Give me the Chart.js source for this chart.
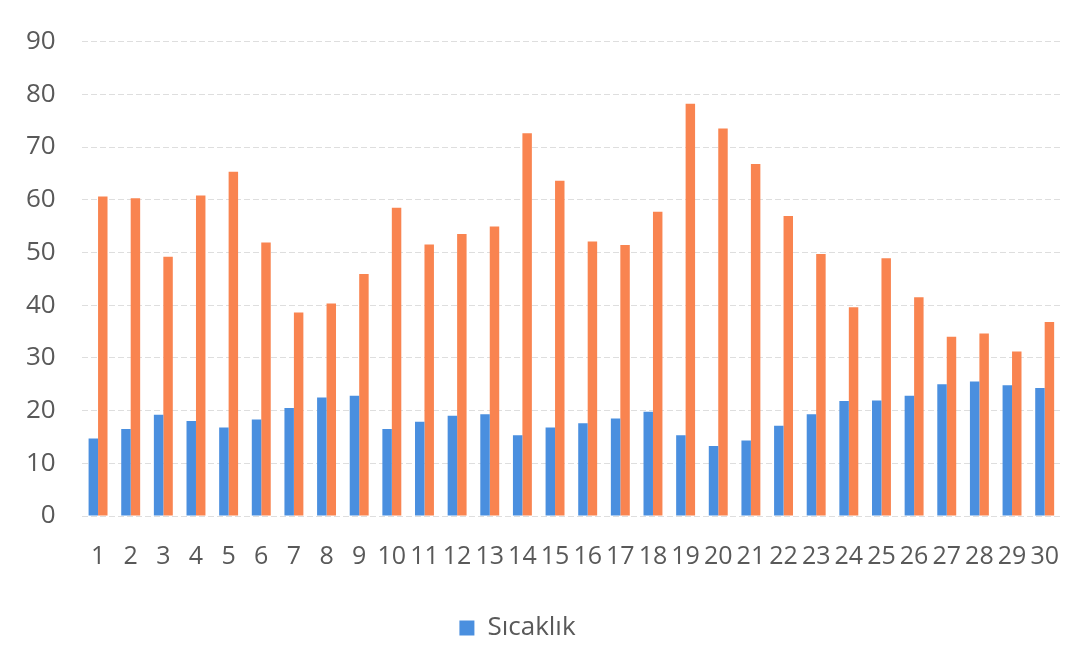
<!DOCTYPE html>
<html>
<head>
<meta charset="utf-8">
<script src="https://cdn.jsdelivr.net/npm/chart.js@4"></script>
<style>
  html, body { margin: 0; padding: 0; background: #ffffff; }
  #wrap { width: 1090px; height: 651px; position: relative; }
</style>
</head>
<body>
<div id="wrap"><canvas id="c" width="1090" height="651"></canvas></div>
<script>
// Days of the month
const days = ['1','2','3','4','5','6','7','8','9','10','11','12','13','14','15',
              '16','17','18','19','20','21','22','23','24','25','26','27','28','29','30'];

// Daily temperature (°C)
const sicaklik = [14.7, 16.5, 19.2, 18.0, 16.8, 18.3, 20.5, 22.5, 22.8, 16.5,
                  17.9, 19.0, 19.3, 15.3, 16.8, 17.6, 18.5, 19.8, 15.3, 13.3,
                  14.3, 17.1, 19.3, 21.8, 21.9, 22.8, 25.0, 25.5, 24.8, 24.3];

// Daily relative humidity (%)
const nem = [60.6, 60.3, 49.2, 60.8, 65.3, 51.9, 38.6, 40.3, 45.9, 58.5,
             51.5, 53.5, 54.9, 72.6, 63.6, 52.1, 51.4, 57.7, 78.2, 73.5,
             66.8, 56.9, 49.7, 39.6, 48.9, 41.5, 34.0, 34.6, 31.2, 36.8];

// Value axis ticks
const yTicks = [0, 10, 20, 30, 40, 50, 60, 70, 80, 90];

const textColor = '#595959';
const fontFamily = '"Open Sans", "Liberation Sans", sans-serif';

// Narrows the legend's layout box so its single entry sits a little left of centre
const legendOffset = {
  id: 'legendOffset',
  afterLayout(chart) {
    const lg = chart.legend;
    if (lg) { lg.right -= 26; lg.width -= 26; }
  }
};

new Chart(document.getElementById('c'), {
  type: 'bar',
  data: {
    labels: days,
    datasets: [
      { label: 'Sıcaklık', data: sicaklik, backgroundColor: '#4A8FDF', borderWidth: 0 },
      { label: 'Nem', data: nem, backgroundColor: '#F98450', borderWidth: 0 }
    ]
  },
  options: {
    responsive: false,
    animation: false,
    datasets: { bar: { categoryPercentage: 0.58, barPercentage: 1.0 } },
    layout: { padding: { top: 38, left: 0, right: 29, bottom: 0 } },
    scales: {
      x: {
        grid: { display: false, drawTicks: false },
        border: { display: false },
        ticks: {
          color: textColor,
          font: { family: fontFamily, size: 25 },
          padding: 26,
          autoSkip: false,
          maxRotation: 0,
          minRotation: 0
        },
        afterFit(scale) { scale.height += 7; }
      },
      y: {
        min: 0,
        max: 90,
        afterBuildTicks(scale) { scale.ticks = yTicks.map(v => ({ value: v })); },
        grid: { color: '#dedede', lineWidth: 1, drawTicks: false },
        border: { display: false, dash: [6, 3] },
        ticks: {
          color: textColor,
          font: { family: fontFamily, size: 26 },
          padding: 26
        }
      }
    },
    plugins: {
      legend: {
        position: 'bottom',
        labels: {
          filter: item => item.datasetIndex === 0,
          color: textColor,
          font: { family: fontFamily, size: 26 },
          boxWidth: 15,
          boxHeight: 15,
          padding: 10
        }
      },
      tooltip: { enabled: false }
    }
  },
  plugins: [legendOffset]
});
</script>
</body>
</html>
